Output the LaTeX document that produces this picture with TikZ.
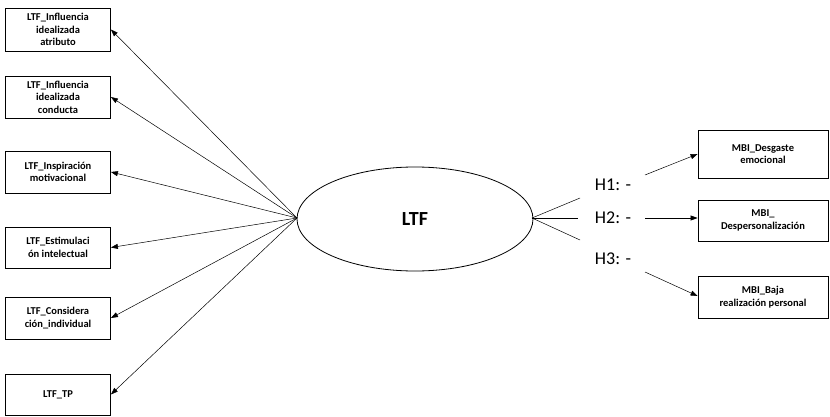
\documentclass[tikz,border=0pt]{standalone}
\usepackage{fontspec}
\setmainfont{Carlito}
\usetikzlibrary{arrows.meta,shapes.geometric}
\begin{document}
\begin{tikzpicture}[x=1pt,y=-1pt,
  box/.style={draw,thick,font=\bfseries\fontsize{10.5}{12.5}\selectfont,align=center,inner sep=1pt},
  arr/.style={-{Triangle[length=7pt,width=5pt]},line width=0.5pt},
  seg/.style={line width=0.5pt},
  hl/.style={font=\fontsize{18}{20}\selectfont}]
\useasboundingbox (0,0) rectangle (830,417);
\fill[white] (0,0) rectangle (830,417);
\node[box,minimum width=105pt,minimum height=43pt] (b1) at (58,29.5) {LTF\_Influencia\\idealizada\\atributo};
\node[box,minimum width=105pt,minimum height=42pt] (b2) at (58,97) {LTF\_Influencia\\idealizada\\conducta};
\node[box,minimum width=105pt,minimum height=42pt] (b3) at (58,172) {LTF\_Inspiración\\motivacional};
\node[box,minimum width=105pt,minimum height=41pt] (b4) at (58,247.5) {LTF\_Estimulaci\\ón intelectual};
\node[box,minimum width=105pt,minimum height=42pt] (b5) at (58,318) {LTF\_Considera\\ción\_individual};
\node[box,minimum width=105pt,minimum height=41pt] (b6) at (58,394.5) {LTF\_TP};
\node[draw,thick,ellipse,minimum width=236pt,minimum height=104pt,font=\bfseries\fontsize{20}{22}\selectfont] (e) at (415,219) {LTF};
\coordinate (c) at (297,218);
\foreach \b in {b1,b2,b3,b4,b5,b6} \draw[arr] (c) -- (\b.east);
\node[box,minimum width=130pt,minimum height=48pt] (r1) at (763,154) {MBI\_Desgaste\\emocional};
\node[box,minimum width=130pt,minimum height=41pt] (r2) at (763,220.5) {MBI\_\\Despersonalización};
\node[box,minimum width=130pt,minimum height=42pt] (r3) at (763,297) {MBI\_Baja\\realización personal};
\node[hl] (h1) at (613,185) {H1: -};
\node[hl] (h2) at (613,218) {H2: -};
\node[hl] (h3) at (613,259) {H3: -};
\coordinate (o) at (532,218);
\draw[seg] (o) -- (580,198);
\draw[seg] (o) -- (578,218);
\draw[seg] (o) -- (580,240);
\draw[arr] (645,175) -- (r1.west |- 0,154);
\draw[arr] (645,218) -- (r2.west |- 0,218);
\draw[arr] (645,272) -- (r3.west |- 0,296);
\end{tikzpicture}
\end{document}
